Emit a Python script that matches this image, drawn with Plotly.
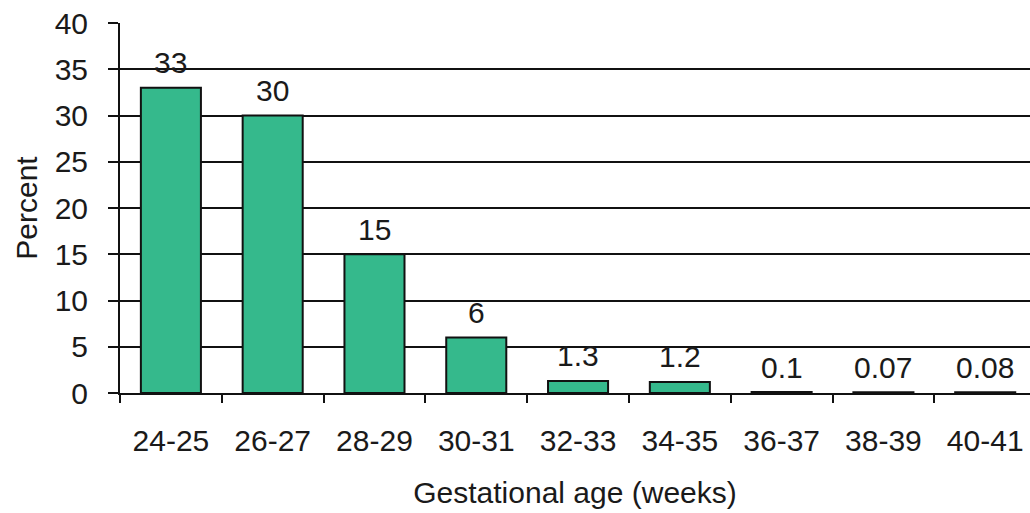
import plotly.graph_objects as go

# Gestational age groups and percentage of births in each
age_groups = ["24-25", "26-27", "28-29", "30-31", "32-33", "34-35", "36-37", "38-39", "40-41"]
percent = [33, 30, 15, 6, 1.3, 1.2, 0.1, 0.07, 0.08]
value_labels = ["33", "30", "15", "6", "1.3", "1.2", "0.1", "0.07", "0.08"]
y_ticks = [0, 5, 10, 15, 20, 25, 30, 35, 40]

FONT = "Liberation Sans, Arial, sans-serif"
INK = "#1a1a1a"
FS = 30

fig = go.Figure()
fig.add_trace(go.Bar(
    x=age_groups,
    y=percent,
    marker=dict(color="#35b98c", line=dict(color="#111111", width=2)),
    cliponaxis=False,
    hoverinfo="skip",
))

for g, v, t in zip(age_groups, percent, value_labels):
    fig.add_annotation(
        x=g, y=v, text=t, showarrow=False,
        yanchor="middle", yshift=25,
        font=dict(family=FONT, size=FS, color=INK),
    )

fig.update_layout(
    width=1030, height=513,
    margin=dict(l=120, r=0, t=23, b=120),
    paper_bgcolor="white", plot_bgcolor="white",
    bargap=0.41,
    showlegend=False,
    font=dict(family=FONT, size=FS, color=INK),
)

fig.update_xaxes(
    type="category",
    range=[-0.5, 8.44],
    tickson="boundaries",
    ticks="outside", ticklen=8, tickwidth=2, tickcolor="#111111",
    showline=True, linecolor="#111111", linewidth=2,
    showgrid=False,
    ticklabelstandoff=20,
    tickfont=dict(family=FONT, size=FS, color=INK),
    title=dict(text="Gestational age (weeks)", standoff=26,
               font=dict(family=FONT, size=FS, color=INK)),
)

fig.update_yaxes(
    range=[0, 40],
    tickvals=y_ticks,
    ticks="outside", ticklen=10, tickwidth=2, tickcolor="#111111",
    showline=True, linecolor="#111111", linewidth=2,
    showgrid=True, gridcolor="#111111", gridwidth=2,
    zeroline=False,
    ticklabelstandoff=14,
    tickfont=dict(family=FONT, size=FS, color=INK),
    title=dict(text="Percent", standoff=8,
               font=dict(family=FONT, size=FS, color=INK)),
)

fig.write_html("out.html")
